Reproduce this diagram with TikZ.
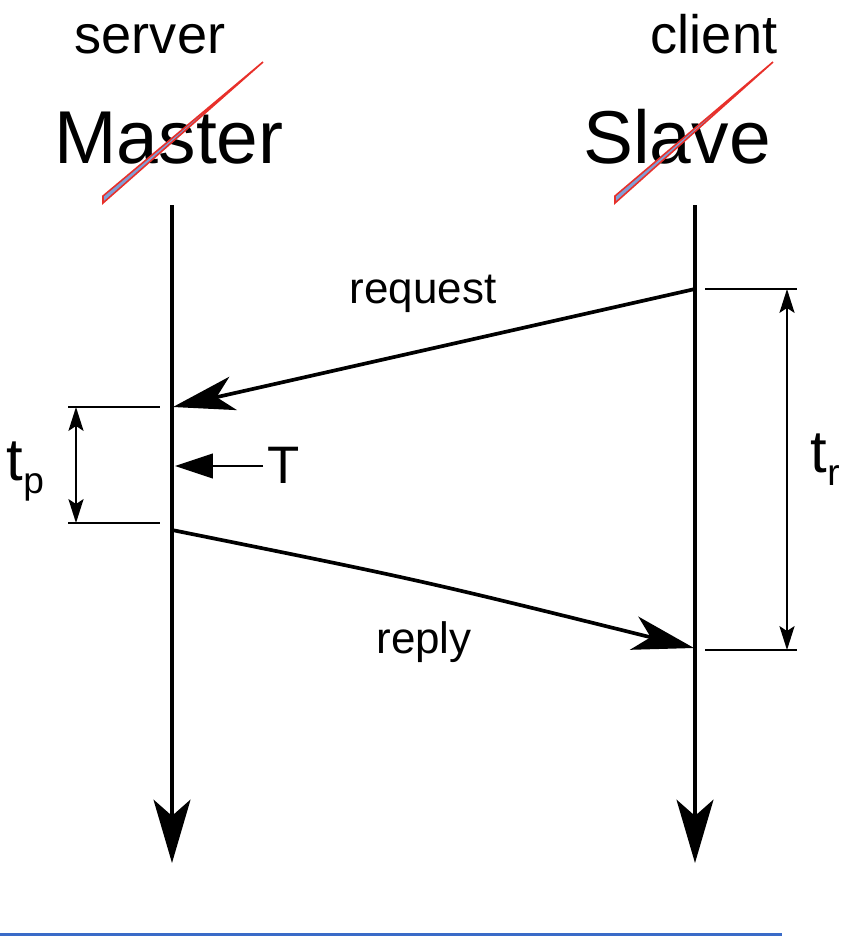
\documentclass[tikz,border=0pt]{standalone}
\usepackage{fontspec}
\setmainfont{Liberation Sans}
\usetikzlibrary{arrows.meta}
\definecolor{strikefill}{HTML}{7F9ED6}
\definecolor{strikered}{HTML}{E8302A}
\definecolor{ruleblue}{HTML}{3A6BC8}
\newcommand{\ptsize}[1]{\fontsize{#1}{#1}\selectfont}
\newcommand{\lowsub}[1]{\raisebox{-0.22em}{\scalebox{0.62}{#1}}}
\tikzset{
  lifeline/.style={line width=1.05pt,-{Stealth[length=18pt,width=10.5pt,inset=4.6pt]}},
  msg/.style={line width=1.05pt,-{Stealth[length=17.5pt,width=9.7pt,inset=4.8pt]}},
  tickline/.style={line width=0.5pt},
  span/.style={line width=0.5pt,{Stealth[length=6.8pt,width=4.3pt,inset=1.4pt]}-{Stealth[length=6.8pt,width=4.3pt,inset=1.4pt]}},
  strike/.style={fill=strikefill,draw=strikered,line width=0.45pt},
  lbl/.style={anchor=base,inner sep=0pt},
}
\begin{document}
\begin{tikzpicture}[x=0.01cm,y=-0.01cm]
\useasboundingbox (0,0) rectangle (852,936);
% lifelines
\coordinate (mtop) at (172,205);
\coordinate (mbot) at (172,863);
\coordinate (stop) at (695,205);
\coordinate (sbot) at (695,863);
\draw[lifeline] (mtop) -- (mbot);
\draw[lifeline] (stop) -- (sbot);
% names, old ones struck out
\node[lbl,font=\ptsize{15.4}] (server) at (150,53) {server};
\node[lbl,font=\ptsize{15.4}] (client) at (714,53) {client};
\node[lbl,font=\ptsize{21.3}] (master) at (169,163) {Master};
\node[lbl,font=\ptsize{21.3}] (slave) at (677,163) {Slave};
\filldraw[strike] (103,196) -- (263,62) -- (103,203) -- cycle;
\filldraw[strike] (615,196) -- (773,62) -- (615,203) -- cycle;
% request / reply
\coordinate (sreq) at (695,289);
\coordinate (mreq) at (173,407);
\coordinate (mrep) at (172,530);
\coordinate (srep) at (694,648);
\draw[msg] (sreq) -- (mreq);
\draw[msg] (mrep) .. controls (420,580) .. (srep);
\node[lbl,font=\ptsize{12.5}] (request) at (423,303) {request};
\node[lbl,font=\ptsize{12.5}] (reply) at (424,653) {reply};
% T
\coordinate (tfrom) at (263,466);
\coordinate (tto) at (175,466);
\draw[line width=0.35pt,-{Triangle[length=10.8pt,width=7.1pt]}] (tfrom) -- (tto);
\node[lbl,anchor=base west,font=\ptsize{15}] (T) at (267,483) {T};
% t_p
\coordinate (tpa) at (68,407);
\coordinate (tpb) at (160,407);
\coordinate (tpc) at (68,523);
\coordinate (tpd) at (160,523);
\draw[tickline] (tpa) -- (tpb);
\draw[tickline] (tpc) -- (tpd);
\draw[span] (76,407) -- (76,523);
\node[lbl,anchor=base west,font=\ptsize{17}] (tp) at (6,480) {t\lowsub{p}};
% t_r
\coordinate (tra) at (705,289);
\coordinate (trb) at (797,289);
\coordinate (trc) at (705,650);
\coordinate (trd) at (797,650);
\draw[tickline] (tra) -- (trb);
\draw[tickline] (trc) -- (trd);
\draw[span] (787,289) -- (787,650);
\node[lbl,anchor=base west,font=\ptsize{17}] (tr) at (810,472) {t\lowsub{r}};
% rule at the bottom
\draw[ruleblue,line width=0.85pt] (0,934) -- (782,934);
\end{tikzpicture}
\end{document}
